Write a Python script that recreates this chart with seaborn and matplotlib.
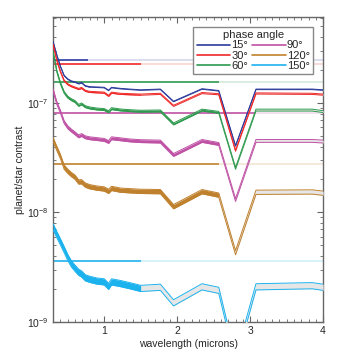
import numpy as np
import matplotlib
matplotlib.use('Agg')
import matplotlib.pyplot as plt
from matplotlib.lines import Line2D
from matplotlib.ticker import MultipleLocator, LogLocator, NullFormatter
import seaborn as sns

sns.set_theme(style='ticks')
plt.rcParams['font.family'] = ['Liberation Sans', 'DejaVu Sans']
plt.rcParams['mathtext.default'] = 'regular'

# wavelength grid (microns)
wavelength = [0.30, 0.35, 0.40, 0.45, 0.50, 0.55, 0.60, 0.65, 0.69, 0.74,
              0.80, 0.90, 1.00, 1.06, 1.10, 1.22, 1.35, 1.50, 1.77, 1.95,
              2.34, 2.57, 2.80, 3.08, 3.85, 4.00]

phase_labels = ['15°', '30°', '60°', '90°', '120°', '150°']
phase_colors = ['#2b3a9c', '#f02828', '#2e9a4e', '#c052a6', '#c0812e', '#1cb2ee']

c15 = [3.6e-7, 2.74e-7, 2.15e-7, 1.78e-7, 1.65e-7, 1.58e-7, 1.55e-7, 1.50e-7, 1.53e-7, 1.43e-7,
       1.40e-7, 1.39e-7, 1.38e-7, 1.30e-7, 1.38e-7, 1.35e-7, 1.33e-7, 1.31e-7, 1.33e-7, 1.03e-7,
       1.34e-7, 1.29e-7, 4.05e-8, 1.33e-7, 1.33e-7, 1.31e-7]
c30 = [3.4e-7, 2.45e-7, 1.93e-7, 1.60e-7, 1.48e-7, 1.42e-7, 1.38e-7, 1.34e-7, 1.37e-7, 1.29e-7,
       1.26e-7, 1.25e-7, 1.24e-7, 1.16e-7, 1.24e-7, 1.21e-7, 1.20e-7, 1.19e-7, 1.21e-7, 9.4e-8,
       1.23e-7, 1.20e-7, 3.66e-8, 1.22e-7, 1.21e-7, 1.19e-7]
c60 = [2.9e-7, 1.95e-7, 1.51e-7, 1.25e-7, 1.13e-7, 1.07e-7, 1.03e-7, 9.5e-8, 9.8e-8, 9.25e-8,
       9.0e-8, 8.8e-8, 8.7e-8, 8.3e-8, 8.87e-8, 8.63e-8, 8.5e-8, 8.4e-8, 8.45e-8, 6.43e-8,
       8.6e-8, 8.2e-8, 2.53e-8, 8.6e-8, 8.6e-8, 8.33e-8]
c90 = [1.3e-7, 1.0e-7, 8.3e-8, 6.7e-8, 6.0e-8, 5.6e-8, 5.28e-8, 4.95e-8, 5.1e-8, 4.86e-8,
       4.76e-8, 4.68e-8, 4.6e-8, 4.4e-8, 4.76e-8, 4.66e-8, 4.55e-8, 4.48e-8, 4.44e-8, 3.35e-8,
       4.5e-8, 4.22e-8, 1.3e-8, 4.5e-8, 4.5e-8, 4.44e-8]
c120 = [4.6e-8, 3.85e-8, 3.24e-8, 2.6e-8, 2.38e-8, 2.22e-8, 2.1e-8, 1.9e-8, 1.91e-8, 1.78e-8,
        1.72e-8, 1.67e-8, 1.64e-8, 1.56e-8, 1.66e-8, 1.6e-8, 1.58e-8, 1.56e-8, 1.55e-8, 1.13e-8,
        1.55e-8, 1.44e-8, 4.3e-9, 1.53e-8, 1.54e-8, 1.5e-8]
c150 = [7.4e-9, 6.3e-9, 5.4e-9, 4.6e-9, 3.9e-9, 3.4e-9, 3.1e-9, 2.85e-9, 2.75e-9, 2.54e-9,
        2.46e-9, 2.37e-9, 2.33e-9, 2.12e-9, 2.33e-9, 2.25e-9, 2.15e-9, 2.03e-9, 2.08e-9, 1.5e-9,
        2.1e-9, 1.95e-9, 4.5e-10, 2.1e-9, 2.15e-9, 2.08e-9]
contrast = [c15, c30, c60, c90, c120, c150]

# relative half-width of each band
band_frac = [0.006, 0.012, 0.02, 0.03, 0.045, 0.065]
# detection limit (horizontal lines)
limits = [2.47e-7, 2.25e-7, 1.55e-7, 8.05e-8, 2.75e-8, 3.63e-9]
# wavelength where instrument coverage ends
line_cut = [0.78, 1.5, 2.57, 3.07, 2.57, 1.5]
band_cut = [0.80, 1.5, 2.57, 2.57, 2.57, 1.5]

frame_col = '#666666'

fig = plt.figure(figsize=(3.59, 3.59), dpi=100)
ax = fig.add_axes([0.148, 0.103, 0.752, 0.850])

wl = np.array(wavelength)
for i, lab in enumerate(phase_labels):
    col = phase_colors[i]
    vals = np.array(contrast[i])
    lo = vals * (1 - band_frac[i])
    hi = vals * (1 + band_frac[i])
    inside = wl <= band_cut[i] + 1e-9
    outside = wl >= band_cut[i] - 1e-9

    # detection limit lines
    ax.hlines(limits[i], wl[0], line_cut[i], color=col, lw=1.2, zorder=2)
    ax.hlines(limits[i], line_cut[i], wl[-1], color=col, lw=1.2, alpha=0.2, zorder=2)

    ax.fill_between(wl, lo, hi, where=outside, color='#e6e6e6', lw=0, zorder=3)
    ax.fill_between(wl, lo, hi, where=inside, color=col, lw=0, zorder=3)
    sns.lineplot(x=wl, y=lo, color=col, lw=0.7, ax=ax, zorder=4)
    sns.lineplot(x=wl, y=hi, color=col, lw=0.7, ax=ax, zorder=4)

ax.set_yscale('log')
ax.set_xlim(0.3, 4.0)
ax.set_ylim(1e-9, 6.1e-7)
ax.xaxis.set_major_locator(MultipleLocator(1))
ax.xaxis.set_minor_locator(MultipleLocator(0.1))
ax.yaxis.set_major_locator(LogLocator(base=10))
ax.yaxis.set_minor_locator(LogLocator(base=10, subs=np.arange(2, 10)))
ax.yaxis.set_minor_formatter(NullFormatter())

ax.tick_params(which='both', direction='in', top=True, right=True,
               color=frame_col, labelsize=7.5, pad=3)
ax.tick_params(which='major', length=4.5, width=0.8)
ax.tick_params(which='minor', length=2.5, width=0.6)
for s in ax.spines.values():
    s.set_color(frame_col)
    s.set_linewidth(1.0)

ax.set_xlabel('wavelength (microns)', fontsize=7.5, labelpad=2)
ax.set_ylabel('planet/star contrast', fontsize=7.5, labelpad=2)

handles = [Line2D([], [], color=c, lw=1.2) for c in phase_colors]
leg = ax.legend(handles, phase_labels, ncol=2, title='phase angle',
                loc='upper right', bbox_to_anchor=(0.963, 0.967), borderaxespad=0,
                fontsize=8, title_fontsize=8, handlelength=3.0,
                handletextpad=0.1, columnspacing=0.4, labelspacing=0.02,
                borderpad=0.3, fancybox=False, framealpha=1, edgecolor='#888888')
leg.get_frame().set_linewidth(1.0)

fig.savefig('out.png', dpi=100)
